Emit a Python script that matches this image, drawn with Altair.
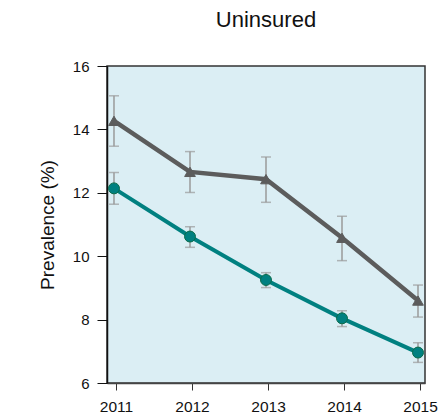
import altair as alt
import pandas as pd

years = [2011, 2012, 2013, 2014, 2015]
chart_title = ["Uninsured"]

# Circle series (teal) with 95% CI
teal_value = [12.14, 10.62, 9.25, 8.04, 6.96]
teal_low = [11.64, 10.28, 9.01, 7.78, 6.65]
teal_high = [12.64, 10.93, 9.48, 8.28, 7.27]

# Triangle series (gray) with 95% CI
gray_value = [14.27, 12.66, 12.43, 10.58, 8.60]
gray_low = [13.47, 12.01, 11.70, 9.86, 8.08]
gray_high = [15.06, 13.30, 13.13, 11.26, 9.09]

teal_df = pd.DataFrame({"year": years, "value": teal_value, "low": teal_low, "high": teal_high})
gray_df = pd.DataFrame({"year": years, "value": gray_value, "low": gray_low, "high": gray_high})

x_enc = alt.X(
    "year:Q",
    scale=alt.Scale(domain=[2010.908, 2015.092], nice=False, zero=False),
    axis=alt.Axis(values=years, format="d", title=None, grid=False,
                  domainColor="#444444", domainWidth=1.5,
                  tickColor="#333333", tickSize=7, tickOffset=2,
                  labelFontSize=15.5, labelPadding=9, labelColor="#111111"),
)
y_enc = alt.Y(
    "value:Q",
    scale=alt.Scale(domain=[6, 16], nice=False, zero=False),
    axis=alt.Axis(values=[6, 8, 10, 12, 14, 16], title="Prevalence (%)", grid=False,
                  domainColor="#111111", domainWidth=1.5,
                  tickColor="#111111", tickSize=10, labelPadding=8,
                  labelFontSize=15, labelColor="#111111",
                  titleFontSize=19, titleFontWeight="normal", titleColor="#111111",
                  titlePadding=15),
)


def series_layers(df, color, shape, size, line_width, stroke):
    base = alt.Chart(df)
    bars = base.mark_rule(color="#9a9a9a", strokeWidth=1.5).encode(
        x=x_enc, y="low:Q", y2="high:Q")
    cap_low = base.mark_tick(color="#9a9a9a", orient="horizontal", size=10, thickness=1.5).encode(
        x=x_enc, y=alt.Y("low:Q"))
    cap_high = base.mark_tick(color="#9a9a9a", orient="horizontal", size=10, thickness=1.5).encode(
        x=x_enc, y=alt.Y("high:Q"))
    line = base.mark_line(color=color, strokeWidth=line_width).encode(x=x_enc, y=y_enc)
    pts = base.mark_point(shape=shape, size=size, filled=True, fill=color, opacity=1,
                          stroke=stroke, strokeWidth=1).encode(x=x_enc, y=y_enc)
    return [bars, cap_low, cap_high, line, pts]


# Title drawn as a text mark centred over the plot area
title_layer = alt.Chart(pd.DataFrame({"t": chart_title})).mark_text(
    fontSize=22, font="Liberation Sans", color="#111111",
    align="center", baseline="alphabetic",
).encode(text="t:N", x=alt.value(159), y=alt.value(-39))

layers = (series_layers(gray_df, "#5c5c5c", "triangle-up", 115, 4.5, "#5c5c5c")
          + series_layers(teal_df, "#008080", "circle", 120, 4, "#0a6b4a")
          + [title_layer])

chart = alt.layer(*layers).properties(
    width=318,
    height=317,
    autosize=alt.AutoSizeParams(type="none"),
    padding={"left": 107, "top": 66, "right": 14, "bottom": 33},
).configure(
    font="Liberation Sans",
).configure_view(
    fill="#dbeef4", stroke="#333333", strokeWidth=1.5,
)

chart.save("out.html", embed_options={"renderer": "svg", "actions": False})
